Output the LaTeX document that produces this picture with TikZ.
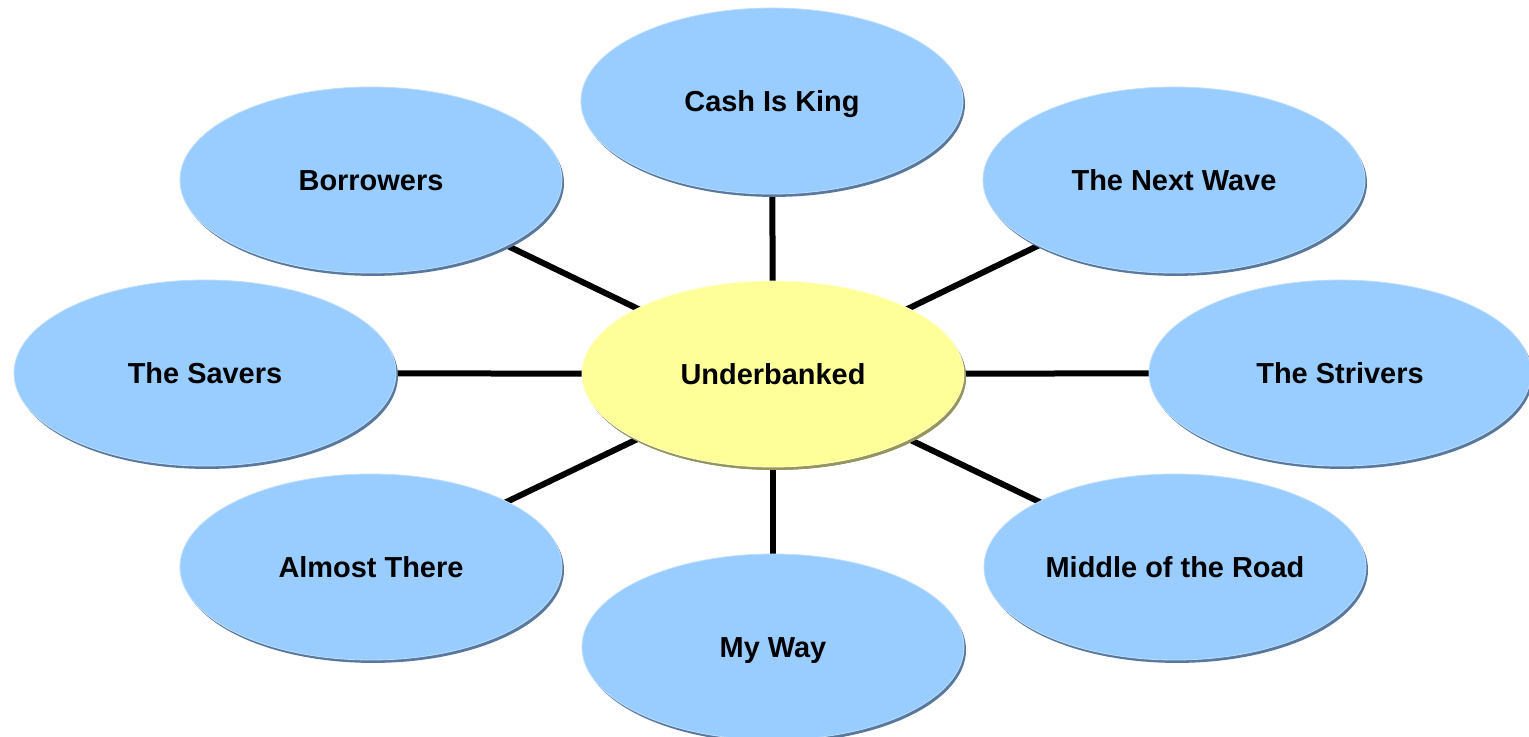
\documentclass[tikz,border=0pt]{standalone}
\usepackage{fontspec}
\setmainfont{Liberation Sans}
\usepackage{tikz}
\usetikzlibrary{shapes.geometric, backgrounds}

\definecolor{segblue}{RGB}{153,204,255}
\definecolor{segblueshade}{RGB}{88,120,158}
\definecolor{segblueedge}{RGB}{190,222,255}
\definecolor{coreyellow}{RGB}{255,255,153}
\definecolor{coreyellowshade}{RGB}{150,150,90}
\definecolor{coreyellowedge}{RGB}{255,255,200}

\tikzset{
  segment/.style={ellipse, inner sep=0pt, minimum width=286.5pt, minimum height=139.5pt,
    text height=15.6pt, text depth=0pt,
    fill=segblue, draw=segblueedge, line width=0.6pt,
    preaction={fill=segblueshade, transform canvas={xshift=1.5pt, yshift=-2.2pt}},
    font=\fontsize{21.7}{26}\selectfont\bfseries},
  core/.style={segment, fill=coreyellow, draw=coreyellowedge,
    preaction={fill=coreyellowshade, transform canvas={xshift=1.5pt, yshift=-2.2pt}}},
  spoke/.style={line width=4.5pt, black}
}

\begin{document}
\begin{tikzpicture}[x=0.75pt,y=0.75pt,yscale=-1,xscale=1]
\useasboundingbox (0,0) rectangle (1529,737);

% Centre
\node [core] (under) at (773,374) {Underbanked};

% Segments
\node [segment] (cash) at (772,101) {Cash Is King};
\node [segment] (borrow) at (371,180) {Borrowers};
\node [segment] (wave) at (1174,180) {The Next Wave};
\node [segment] (savers) at (205,373) {The Savers};
\node [segment] (strive) at (1340,373) {The Strivers};
\node [segment] (almost) at (371,567) {Almost There};
\node [segment] (middle) at (1175,567) {Middle of the Road};
\node [segment] (myway) at (773,647) {My Way};

% Spokes
\begin{scope}[on background layer]
\foreach \seg in {cash, borrow, wave, savers, strive, almost, middle, myway}
  \draw [spoke] (under.center) -- (\seg.center);
\end{scope}

\end{tikzpicture}
\end{document}
